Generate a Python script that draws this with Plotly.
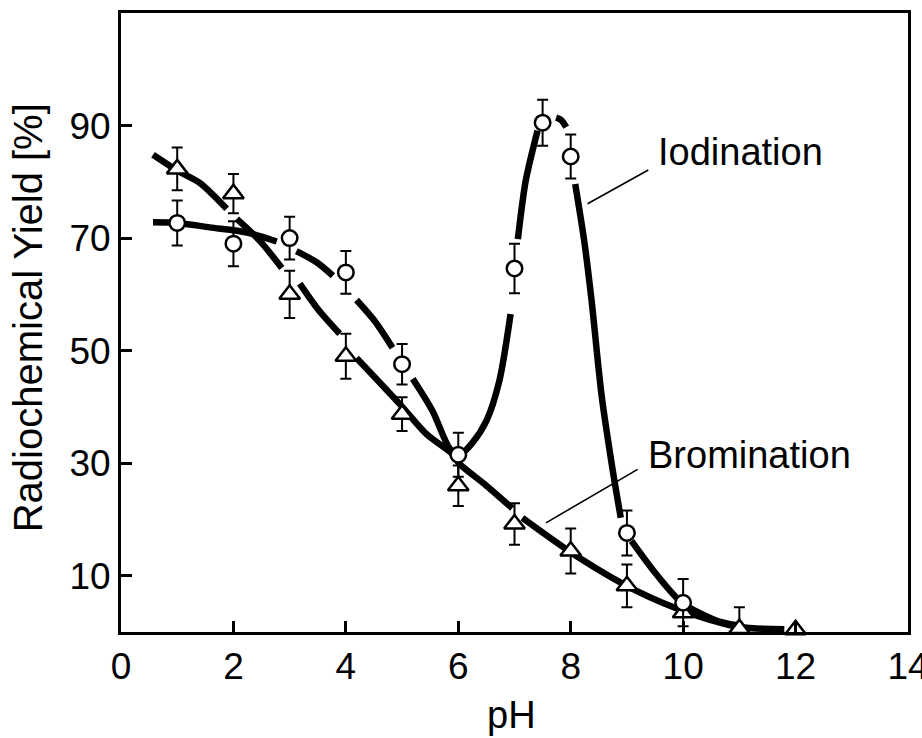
import plotly.graph_objects as go

# ---- data ----
ph_iod = [1, 2, 3, 4, 5, 6, 7, 7.5, 8, 9, 10]
yield_iod = [72.7, 69.0, 70.0, 63.9, 47.6, 31.5, 64.6, 90.5, 84.5, 17.6, 5.2]
err_iod = [4.0, 4.0, 3.8, 3.8, 3.6, 3.9, 4.4, 4.1, 3.9, 4.0, 4.2]

ph_brom = [1, 2, 3, 4, 5, 6, 7, 8, 9, 10, 11, 12]
yield_brom = [82.3, 77.9, 60.0, 49.0, 38.7, 26.0, 19.2, 14.4, 8.2, 3.4, 0.6, 0.4]
err_brom = [3.8, 3.5, 4.2, 4.0, 3.0, 3.6, 3.7, 4.0, 3.8, 0, 3.8, 0]

# drawn (hand-fitted) curves; None = gap in the drawn line
curve_iod_x = [0.57, 1.0, 1.58, 2.24, 2.77, None,
               3.12, 3.48, 3.77, None,
               4.19, 4.51, 4.83, None,
               5.19, 5.54, 5.84, 6.0, 6.25, 6.5, 6.73, 6.93, None,
               7.06, 7.2, 7.41, None,
               7.74, 7.83, 7.92, None,
               8.08, 8.24, 8.37, 8.55, 8.74, 8.89, None,
               9.08, 9.52, 9.98, 10.6, 10.95]
curve_iod_y = [72.8, 72.7, 71.9, 71.0, 69.4, None,
               67.7, 65.7, 63.3, None,
               59.0, 55.3, 50.5, None,
               45.0, 39.3, 32.7, 31.3, 33.6, 37.5, 44.6, 56.5, None,
               69.8, 80.2, 89.1, None,
               91.4, 91.0, 89.7, None,
               79.6, 69.5, 59.0, 42.0, 29.2, 20.3, None,
               16.2, 10.3, 5.2, 2.0, 1.2]

curve_brom_x = [0.57, 1.0, 1.4, 1.88, None,
                2.06, 2.47, 2.86, None,
                3.18, 3.5, 3.89, None,
                4.19, 4.96, 5.43, 5.9, 6.02, 6.5, 6.96, None,
                7.14, 8.15, 9.17, 10.1, 11.0, 11.8]
curve_brom_y = [84.8, 82.0, 79.8, 75.2, None,
                73.4, 69.5, 64.7, None,
                61.9, 57.4, 53.0, None,
                48.7, 40.5, 35.2, 31.6, 29.9, 26.0, 22.0, None,
                20.3, 13.2, 7.3, 3.4, 0.9, 0.5]

x_ticks = [0, 2, 4, 6, 8, 10, 12, 14]
x_tick_labels = ["0", "2", "4", "6", "8", "10", "12", "14"]
y_ticks = [10, 30, 50, 70, 90]

FONT = "Liberation Sans, Arial, sans-serif"

fig = go.Figure()

fig.add_trace(go.Scatter(x=curve_iod_x, y=curve_iod_y, mode="lines",
                         line=dict(color="black", width=6.5, shape="spline", smoothing=0.8),
                         connectgaps=False, hoverinfo="skip", showlegend=False))
fig.add_trace(go.Scatter(x=curve_brom_x, y=curve_brom_y, mode="lines",
                         line=dict(color="black", width=6.5, shape="spline", smoothing=0.8),
                         connectgaps=False, hoverinfo="skip", showlegend=False))

fig.add_trace(go.Scatter(x=ph_brom, y=yield_brom, mode="markers",
                         marker=dict(symbol="triangle-up", size=18, color="white",
                                     line=dict(color="black", width=2.5)),
                         error_y=dict(type="data", array=err_brom, color="black",
                                      thickness=2, width=5.5),
                         cliponaxis=False, showlegend=False, name="Bromination"))
fig.add_trace(go.Scatter(x=ph_iod, y=yield_iod, mode="markers",
                         marker=dict(symbol="circle", size=15.5, color="white",
                                     line=dict(color="black", width=2.5)),
                         error_y=dict(type="data", array=err_iod, color="black",
                                      thickness=2, width=5.5),
                         cliponaxis=False, showlegend=False, name="Iodination"))

# leader lines
fig.add_shape(type="line", x0=8.3, y0=76.1, x1=9.38, y1=82.1,
              line=dict(color="black", width=1.6))
fig.add_shape(type="line", x0=7.56, y0=19.4, x1=9.19, y1=28.9,
              line=dict(color="black", width=1.6))

fig.add_annotation(x=9.52, y=85.3, text="Iodination", showarrow=False,
                   xanchor="left", yanchor="middle",
                   font=dict(family=FONT, size=38, color="black"))
fig.add_annotation(x=9.34, y=31.5, text="Bromination", showarrow=False,
                   xanchor="left", yanchor="middle",
                   font=dict(family=FONT, size=38, color="black"))

# axis titles
fig.add_annotation(x=6.95, xref="x", y=-0.134, yref="paper", text="pH",
                   showarrow=False, xanchor="center", yanchor="middle",
                   font=dict(family=FONT, size=38, color="black"))
fig.add_annotation(x=-0.118, xref="paper", y=0.507, yref="paper",
                   text="Radiochemical Yield [%]", textangle=-90,
                   showarrow=False, xanchor="center", yanchor="middle",
                   font=dict(family=FONT, size=40, color="black"))

fig.update_layout(
    width=922, height=738,
    margin=dict(l=121, r=14, t=13, b=106, autoexpand=False),
    paper_bgcolor="white", plot_bgcolor="white",
    font=dict(family=FONT, size=37, color="black"),
    xaxis=dict(range=[0, 14], tickmode="array", tickvals=x_ticks,
               ticktext=x_tick_labels, ticklabeloverflow="allow", automargin=False,
               ticks="inside", ticklen=11, tickwidth=3, tickcolor="black",
               showline=True, linecolor="black", linewidth=3, mirror=True,
               showgrid=False, zeroline=False, fixedrange=True,
               tickfont=dict(family=FONT, size=37)),
    yaxis=dict(range=[0, 110], tickmode="array", tickvals=y_ticks, automargin=False,
               ticks="inside", ticklen=11, tickwidth=3, tickcolor="black",
               showline=True, linecolor="black", linewidth=3, mirror=True,
               showgrid=False, zeroline=False, fixedrange=True,
               tickfont=dict(family=FONT, size=37)),
)

fig.write_html("out.html")
